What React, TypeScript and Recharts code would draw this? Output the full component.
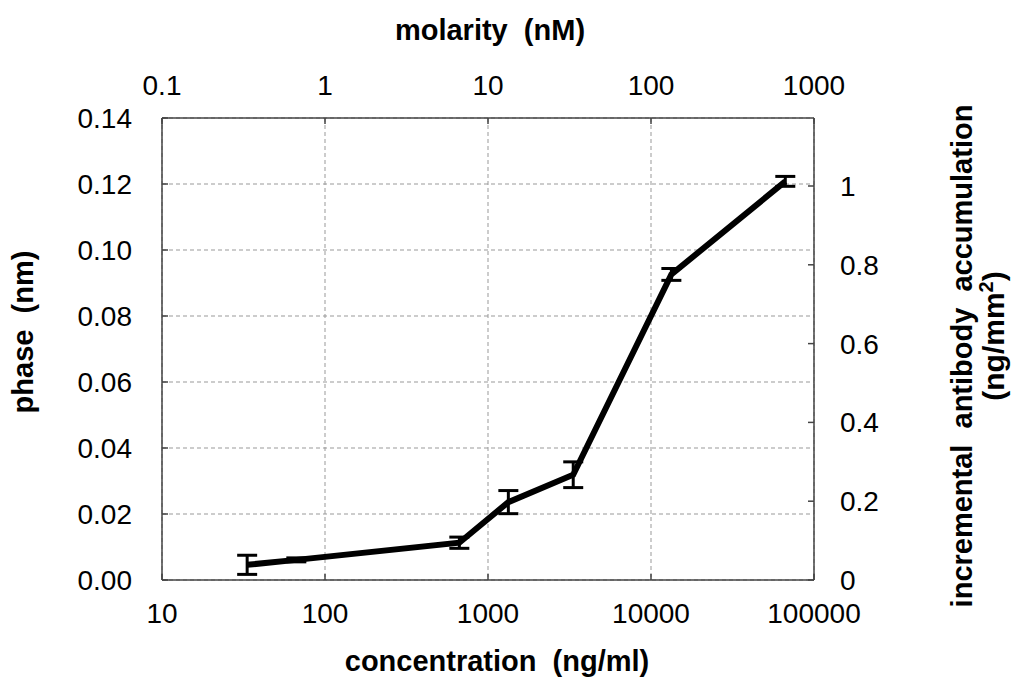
import React from 'react';
import { LineChart, Line, XAxis, YAxis, CartesianGrid, ErrorBar, Label } from 'recharts';

// concentration (ng/ml) of each measurement
const concentration = [33.3, 66.7, 667, 1333, 3333, 13333, 66667];
// same points on the molarity scale (nM), top axis
const molarity = [0.333, 0.667, 6.67, 13.33, 33.33, 133.33, 666.67];
// phase (nm)
const phase = [0.0046, 0.0061, 0.0113, 0.0236, 0.0319, 0.0926, 0.1208];
// error bar half-height (nm)
const phaseError = [0.0029, 0.0006, 0.0017, 0.0035, 0.0039, 0.0018, 0.0015];

const concentrationTicks = [10, 100, 1000, 10000, 100000];
const molarityTicks = [0.1, 1, 10, 100, 1000];
const phaseTicks = [0, 0.02, 0.04, 0.06, 0.08, 0.1, 0.12, 0.14];
const accumulationTicks = [0, 0.2, 0.4, 0.6, 0.8, 1];

const concentrationDomain = [10, 100000];
const molarityDomain = [0.1, 1000];
const phaseDomain = [0, 0.14];
const accumulationDomain = [0, 1.1726];

const xTitle = 'concentration  (ng/ml)';
const topTitle = 'molarity  (nM)';
const leftTitle = 'phase  (nm)';
const rightTitle1 = 'incremental  antibody  accumulation';
const rightTitle2 = '(ng/mm';

const data = concentration.map((c, i) => ({ conc: c, mol: molarity[i], phase: phase[i], err: phaseError[i] }));

const FONT = "'Liberation Sans', Arial, Helvetica, sans-serif";
const AXIS_COLOR = '#444';
const tickStyle = { fontSize: 28, fill: '#000', fontFamily: FONT };
const titleStyle: React.CSSProperties = { whiteSpace: 'pre' };

const BottomTitle = (props: any) => {
  const { x, y, width } = props.viewBox;
  return (
    <text x={x + width / 2 + 9} y={y + 91} textAnchor="middle" fontFamily={FONT} fontWeight="bold" fontSize={29} fill="#000" style={titleStyle}>
      {xTitle}
    </text>
  );
};

const TopTitle = (props: any) => {
  const { x, y, width } = props.viewBox;
  return (
    <text x={x + width / 2 + 2} y={y + 40} textAnchor="middle" fontFamily={FONT} fontWeight="bold" fontSize={29} fill="#000" style={titleStyle}>
      {topTitle}
    </text>
  );
};

const LeftTitle = (props: any) => {
  const { x, y, height } = props.viewBox;
  const cx = x + 33;
  const cy = y + height / 2 - 17;
  return (
    <text x={cx} y={cy} transform={`rotate(-90 ${cx} ${cy})`} textAnchor="middle" fontFamily={FONT} fontWeight="bold" fontSize={29} fill="#000" style={titleStyle}>
      {leftTitle}
    </text>
  );
};

const RightTitle = (props: any) => {
  const { x, y, height } = props.viewBox;
  const cx1 = x + 158;
  const cy1 = y + height / 2 + 7;
  const cx2 = x + 190;
  const cy2 = y + height / 2 - 13;
  return (
    <g>
      <text x={cx1} y={cy1} transform={`rotate(-90 ${cx1} ${cy1})`} textAnchor="middle" fontFamily={FONT} fontWeight="bold" fontSize={29} fill="#000" style={titleStyle}>
        {rightTitle1}
      </text>
      <text x={cx2} y={cy2} transform={`rotate(-90 ${cx2} ${cy2})`} textAnchor="middle" fontFamily={FONT} fontWeight="bold" fontSize={30} fill="#000">
        {rightTitle2}
        <tspan dy={-11} fontSize={20}>2</tspan>
        <tspan dy={11}>)</tspan>
      </text>
    </g>
  );
};

export default function App() {
  return (
    <div style={{ position: 'absolute', left: 0, top: 0, width: 1011, height: 677, background: '#fff' }}>
      <LineChart width={1011} height={677} data={data} margin={{ top: 0, right: 0, bottom: 0, left: 0 }}>
        <CartesianGrid xAxisId="bottom" yAxisId="left" stroke="#999" strokeDasharray="4 3" strokeWidth={1} />
        <XAxis
          xAxisId="bottom"
          dataKey="conc"
          type="number"
          scale="log"
          domain={concentrationDomain}
          ticks={concentrationTicks}
          allowDataOverflow
          height={97}
          tick={tickStyle}
          tickSize={-6}
          tickMargin={29}
          axisLine={{ stroke: AXIS_COLOR, strokeWidth: 1.5 }}
          tickLine={{ stroke: AXIS_COLOR, strokeWidth: 1.5 }}
          interval={0}
        >
          <Label content={BottomTitle} />
        </XAxis>
        <XAxis
          xAxisId="top"
          dataKey="mol"
          orientation="top"
          type="number"
          scale="log"
          domain={molarityDomain}
          ticks={molarityTicks}
          allowDataOverflow
          height={118}
          tick={tickStyle}
          tickSize={-6}
          tickMargin={29}
          axisLine={{ stroke: AXIS_COLOR, strokeWidth: 1.5 }}
          tickLine={{ stroke: AXIS_COLOR, strokeWidth: 1.5 }}
          interval={0}
        >
          <Label content={TopTitle} />
        </XAxis>
        <YAxis
          yAxisId="left"
          type="number"
          domain={phaseDomain}
          ticks={phaseTicks}
          allowDataOverflow
          width={162}
          tick={tickStyle}
          tickFormatter={(v: number) => v.toFixed(2)}
          tickSize={-6}
          tickMargin={36}
          axisLine={{ stroke: AXIS_COLOR, strokeWidth: 1.5 }}
          tickLine={{ stroke: AXIS_COLOR, strokeWidth: 1.5 }}
          interval={0}
        >
          <Label content={LeftTitle} />
        </YAxis>
        <YAxis
          yAxisId="right"
          orientation="right"
          type="number"
          domain={accumulationDomain}
          ticks={accumulationTicks}
          allowDataOverflow
          width={197}
          tick={tickStyle}
          tickSize={-6}
          tickMargin={32}
          axisLine={{ stroke: AXIS_COLOR, strokeWidth: 1.5 }}
          tickLine={{ stroke: AXIS_COLOR, strokeWidth: 1.5 }}
          interval={0}
        >
          <Label content={RightTitle} />
        </YAxis>
        <Line
          xAxisId="top"
          yAxisId="left"
          type="linear"
          dataKey="phase"
          stroke="none"
          strokeWidth={0}
          dot={false}
          activeDot={false}
          legendType="none"
          isAnimationActive={false}
        />
        <Line
          xAxisId="bottom"
          yAxisId="left"
          type="linear"
          dataKey="phase"
          stroke="#000"
          strokeWidth={6}
          dot={false}
          activeDot={false}
          isAnimationActive={false}
        >
          <ErrorBar dataKey="err" direction="y" width={10} strokeWidth={3} stroke="#000" isAnimationActive={false} />
        </Line>
      </LineChart>
    </div>
  );
}
